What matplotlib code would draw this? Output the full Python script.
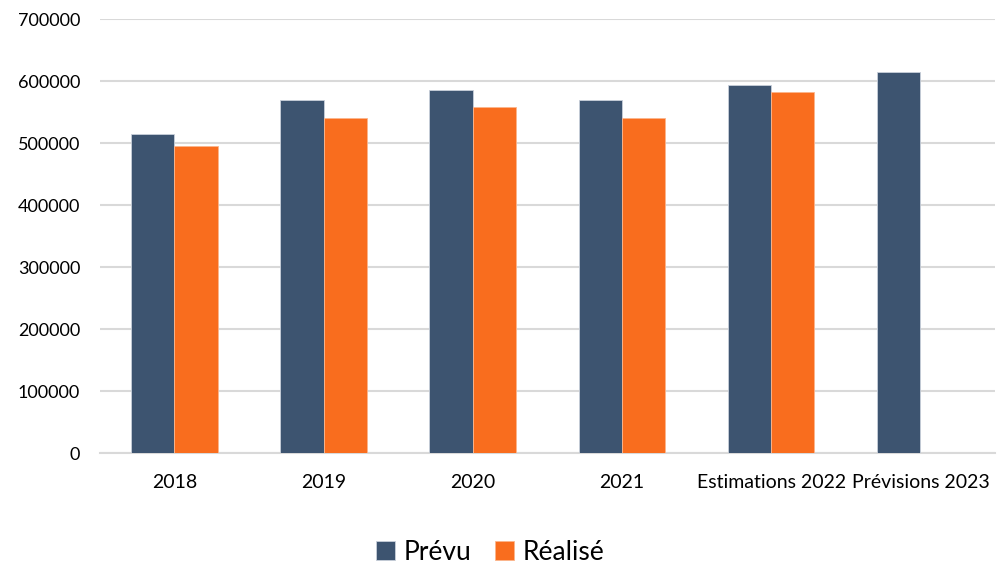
import numpy as np
import matplotlib.pyplot as plt

plt.rcParams['font.family'] = ['Lato', 'DejaVu Sans']

categories = ['2018', '2019', '2020', '2021', 'Estimations 2022', 'Prévisions 2023']
prevu = [514000, 569000, 585000, 569000, 594000, 614000]
realise = [495000, 541000, 558000, 540000, 583000, np.nan]

c_prevu = '#3D5470'
c_real = '#F96D1E'

fig = plt.figure(figsize=(9.97, 5.63), dpi=100)
ax = fig.add_axes([0.1, 0.195, 0.898, 0.771])

x = np.arange(len(categories))
w = 0.29
ax.bar(x - w / 2, prevu, w, color=c_prevu, edgecolor='#C9D0DA', linewidth=0.6, label='Prévu', zorder=3)
ax.bar(x + w / 2, realise, w, color=c_real, edgecolor='#FBB58C', linewidth=0.6, label='Réalisé', zorder=3)

ax.set_xlim(-0.5, len(categories) - 0.5)
ax.set_ylim(0, 700000)
ax.set_yticks(np.arange(0, 700001, 100000))
ax.yaxis.grid(True, color='#D9D9D9', linewidth=1.5, zorder=0)
ax.set_axisbelow(True)
for s in ['top', 'right', 'left']:
    ax.spines[s].set_visible(False)
ax.spines['bottom'].set_color('#D9D9D9')
ax.spines['bottom'].set_linewidth(1.5)

ax.set_xticks(x)
ax.set_xticklabels(categories)
ax.tick_params(axis='both', length=0, colors='black')
ax.tick_params(axis='x', pad=15, labelsize=14)
ax.tick_params(axis='y', pad=14, labelsize=13)

fig.legend(loc='lower center', bbox_to_anchor=(0.492, -0.045), ncol=2, frameon=False,
           fontsize=19, handlelength=0.7, handleheight=0.7, handletextpad=0.35, columnspacing=0.9)

fig.savefig('out.png', dpi=100)
